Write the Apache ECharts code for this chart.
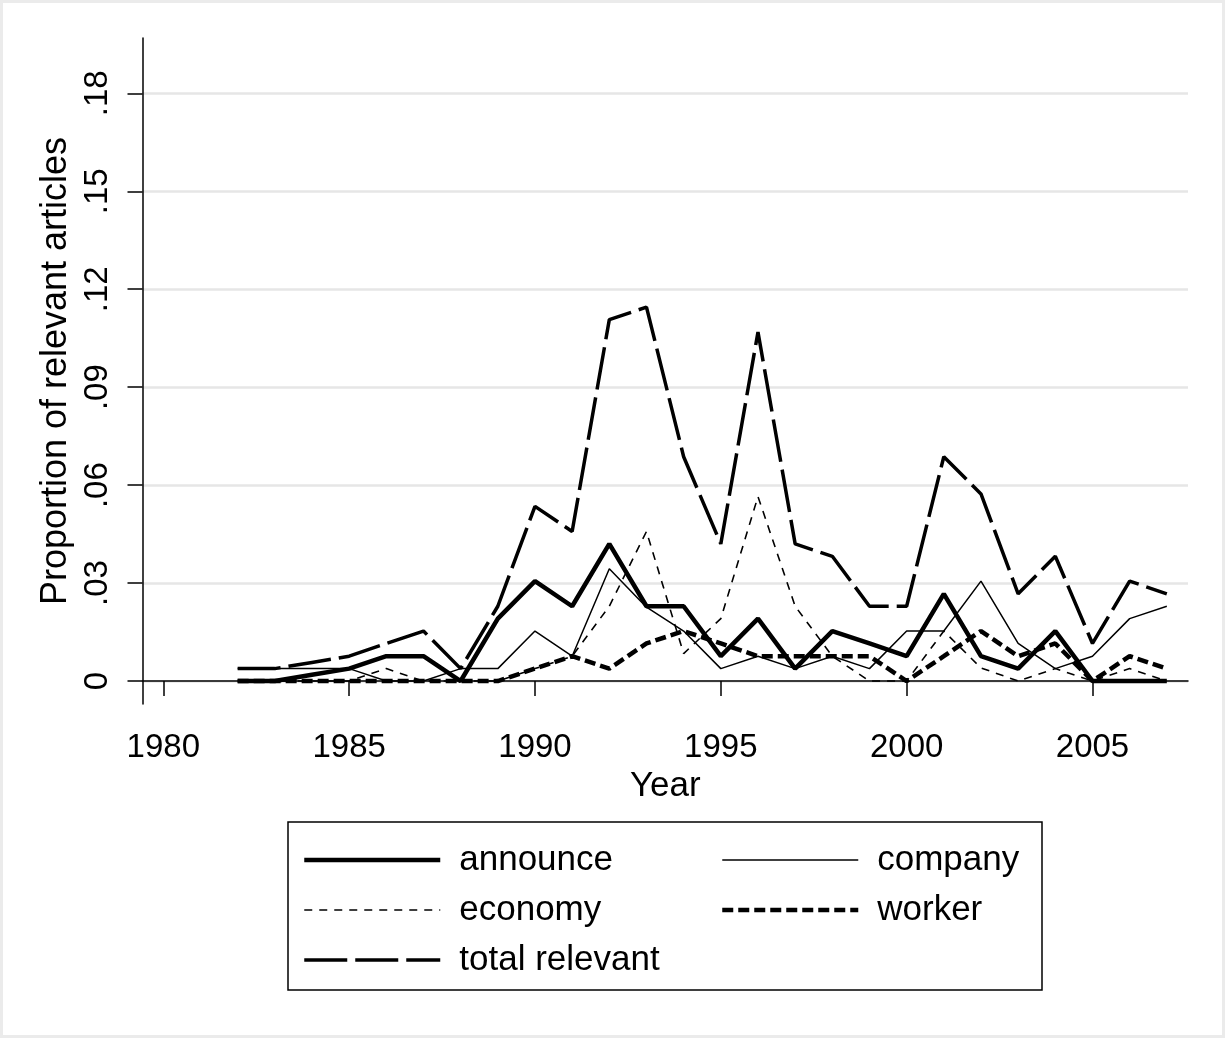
<!DOCTYPE html>
<html lang="en">

<head>
    <meta charset="UTF-8">
    <title>proportion of relevant articles</title>
    <script type="text/javascript" src="https://cdn.jsdelivr.net/npm/echarts@6/dist/echarts.min.js"></script>
</head>

<body style="margin:0; background:#fff;">
    <div id="main" style="width: 1225px; height: 1038px;"></div>

    <script type="text/javascript">
        // data, one value per year
        var years = [1982, 1983, 1984, 1985, 1986, 1987, 1988, 1989, 1990, 1991, 1992, 1993, 1994,
            1995, 1996, 1997, 1998, 1999, 2000, 2001, 2002, 2003, 2004, 2005, 2006, 2007];
        var announce = [0, 0, 0.0019, 0.0038, 0.0076, 0.0076, 0, 0.0191, 0.0306, 0.0229, 0.0420, 0.0229, 0.0229,
            0.0076, 0.0191, 0.0038, 0.0153, 0.0115, 0.0076, 0.0267, 0.0076, 0.0038, 0.0153, 0, 0, 0];
        var company = [0.0038, 0.0038, 0.0038, 0.0038, 0, 0, 0.0038, 0.0038, 0.0153, 0.0076, 0.0344, 0.0226, 0.0153,
            0.0038, 0.0076, 0.0038, 0.0076, 0.0038, 0.0153, 0.0153, 0.0306, 0.0115, 0.0038, 0.0076, 0.0191, 0.0229];
        var economy = [0, 0, 0, 0, 0.0038, 0, 0, 0, 0.0038, 0.0076, 0.0229, 0.0458, 0.0084,
            0.0191, 0.0565, 0.0229, 0.0076, 0, 0, 0.0153, 0.0040, 0, 0.0038, 0, 0.0038, 0];
        var worker = [0, 0, 0, 0, 0, 0, 0, 0, 0.0038, 0.0076, 0.0038, 0.0115, 0.0153,
            0.0115, 0.0076, 0.0076, 0.0076, 0.0076, 0, 0.0076, 0.0153, 0.0076, 0.0115, 0, 0.0076, 0.0038];
        var totalRelevant = [0.0038, 0.0038, 0.0057, 0.0076, 0.0115, 0.0153, 0.0038, 0.0229, 0.0535, 0.0458, 0.1107, 0.1145, 0.0687,
            0.0420, 0.1069, 0.0420, 0.0382, 0.0229, 0.0229, 0.0687, 0.0573, 0.0267, 0.0382, 0.0115, 0.0306, 0.0267];

        var xTicks = [1980, 1985, 1990, 1995, 2000, 2005];
        var yTicks = [0, 0.03, 0.06, 0.09, 0.12, 0.15, 0.18];

        function pairs(vals) {
            return years.map(function (y, i) { return [y, vals[i]]; });
        }

        var font = '"Liberation Sans", Arial, Helvetica, sans-serif';

        // line look per series, shared by plot and legend
        var styles = {
            'announce':       { width: 4.5, type: 'solid' },
            'company':        { width: 1.5, type: 'solid' },
            'economy':        { width: 1.6, type: [8, 7] },
            'worker':         { width: 4.5, type: [11, 5] },
            'total relevant': { width: 3.5, type: [43, 8] }
        };

        function legendItems(names) {
            return names.map(function (n) {
                return { name: n, lineStyle: { color: '#000', width: styles[n].width, type: styles[n].type } };
            });
        }

        function makeSeries(name, vals) {
            return {
                name: name,
                type: 'line',
                symbol: 'none',
                color: '#000',
                lineStyle: { color: '#000', width: styles[name].width, type: styles[name].type },
                data: pairs(vals)
            };
        }

        var legendBase = {
            orient: 'vertical',
            top: 837,
            itemWidth: 136,
            itemHeight: 36,
            itemGap: 14,
            itemStyle: { opacity: 0, borderWidth: 0 },
            textStyle: { fontSize: 35, lineHeight: 36, color: '#000', fontFamily: font, padding: [0, 0, 0, 14] }
        };

        var myChart = echarts.init(document.getElementById('main'));

        myChart.setOption({
            animation: false,
            backgroundColor: '#fff',
            textStyle: { fontFamily: font, color: '#000' },
            graphic: [
                // outer frame of the graph region
                { type: 'rect', shape: { x: 1.5, y: 1.5, width: 1222, height: 1035 },
                  style: { fill: 'none', stroke: '#ebebeb', lineWidth: 3 }, silent: true },
                // legend box
                { type: 'rect', shape: { x: 288, y: 822, width: 754, height: 168 },
                  style: { fill: 'none', stroke: '#000', lineWidth: 1.5 }, silent: true }
            ],
            grid: { left: 142.5, right: 37, top: 38, bottom: 334, containLabel: false },
            xAxis: {
                type: 'value',
                min: 1979.44,
                max: 2007.57,
                name: 'Year',
                nameLocation: 'middle',
                nameGap: 60,
                nameTextStyle: { fontSize: 35, color: '#000', fontFamily: font },
                axisLine: { show: true, lineStyle: { color: '#000', width: 1.5 } },
                axisTick: { show: true, customValues: xTicks, length: 15, lineStyle: { color: '#000', width: 1.5 } },
                axisLabel: {
                    customValues: xTicks, fontSize: 33, color: '#000', margin: 27, fontFamily: font,
                    formatter: function (v) { return String(v); }
                },
                splitLine: { show: false }
            },
            yAxis: {
                type: 'value',
                min: -0.00704,
                max: 0.19694,
                name: 'Proportion of relevant articles',
                nameLocation: 'middle',
                nameGap: 67,
                nameTextStyle: { fontSize: 36, color: '#000', fontFamily: font },
                axisLine: { show: true, lineStyle: { color: '#000', width: 1.5 } },
                axisTick: { show: true, customValues: yTicks, length: 15, lineStyle: { color: '#000', width: 1.5 } },
                axisLabel: {
                    customValues: yTicks,
                    rotate: 90,
                    fontSize: 33,
                    color: '#000',
                    margin: 28,
                    fontFamily: font,
                    formatter: function (v) {
                        if (Math.abs(v) < 1e-9) return '0';
                        var s = String(Math.round(v * 100));
                        if (s.length < 2) s = '0' + s;
                        return '.' + s;
                    }
                },
                splitLine: { show: true, lineStyle: { color: '#e6e6e6', width: 2.5 } }
            },
            legend: [
                Object.assign({}, legendBase, { left: 297, data: legendItems(['announce', 'economy', 'total relevant']) }),
                Object.assign({}, legendBase, { left: 715, data: legendItems(['company', 'worker']) })
            ],
            series: [
                makeSeries('announce', announce),
                makeSeries('company', company),
                makeSeries('economy', economy),
                makeSeries('worker', worker),
                makeSeries('total relevant', totalRelevant)
            ]
        });
    </script>

</body>

</html>
